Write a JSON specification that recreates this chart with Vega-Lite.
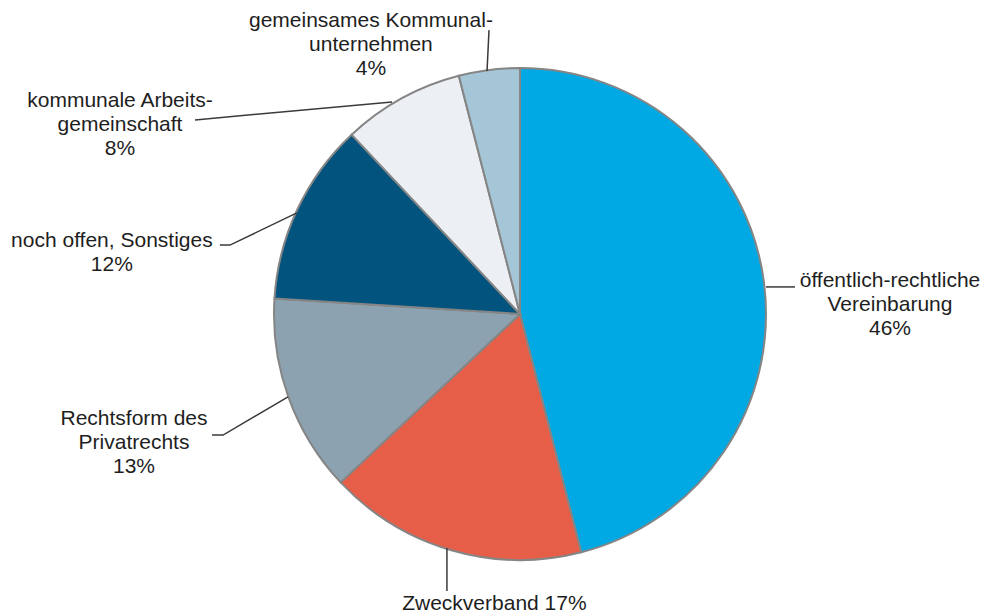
{
  "$schema": "https://vega.github.io/schema/vega-lite/v6.json",
  "width": 986,
  "height": 615,
  "padding": 0,
  "autosize": {"type": "none"},
  "background": "white",
  "config": {"view": {"stroke": null}},
  "datasets": {
    "slices": [
      {"idx": 1, "category": "öffentlich-rechtliche Vereinbarung", "share": 46},
      {"idx": 2, "category": "Zweckverband", "share": 17},
      {"idx": 3, "category": "Rechtsform des Privatrechts", "share": 13},
      {"idx": 4, "category": "noch offen, Sonstiges", "share": 12},
      {"idx": 5, "category": "kommunale Arbeitsgemeinschaft", "share": 8},
      {"idx": 6, "category": "gemeinsames Kommunalunternehmen", "share": 4}
    ],
    "leaders": [
      {"leader": "gem", "pt": 0, "u": -13.4, "v": 98.8},
      {"leader": "gem", "pt": 1, "u": -12.6, "v": 115.4},
      {"leader": "kom", "pt": 0, "u": -132.1, "v": 78.9},
      {"leader": "kom", "pt": 1, "u": -52.0, "v": 86.2},
      {"leader": "noch", "pt": 0, "u": -122.0, "v": 28.0},
      {"leader": "noch", "pt": 1, "u": -117.9, "v": 28.0},
      {"leader": "noch", "pt": 2, "u": -90.7, "v": 41.1},
      {"leader": "rech", "pt": 0, "u": -125.2, "v": -49.2},
      {"leader": "rech", "pt": 1, "u": -120.7, "v": -49.2},
      {"leader": "rech", "pt": 2, "u": -94.3, "v": -33.7},
      {"leader": "oeff", "pt": 0, "u": 100.0, "v": 11.0},
      {"leader": "oeff", "pt": 1, "u": 111.8, "v": 11.0},
      {"leader": "zweck", "pt": 0, "u": -29.7, "v": -95.1},
      {"leader": "zweck", "pt": 1, "u": -29.7, "v": -112.6}
    ],
    "labels": [
      {"text": "gemeinsames Kommunal-\nunternehmen\n4%", "u": -60.6, "v": 116.7},
      {"text": "kommunale Arbeits-\ngemeinschaft\n8%", "u": -162.6, "v": 84.3},
      {"text": "noch offen, Sonstiges\n12%", "u": -165.9, "v": 27.4},
      {"text": "Rechtsform des\nPrivatrechts\n13%", "u": -156.9, "v": -45.1},
      {"text": "öffentlich-rechtliche\nVereinbarung\n46%", "u": 150.4, "v": 11.1},
      {"text": "Zweckverband 17%", "u": -10.4, "v": -120.3}
    ]
  },
  "layer": [
    {
      "data": {"name": "slices"},
      "mark": {"type": "arc", "outerRadius": 246, "stroke": "#858585", "strokeWidth": 2},
      "encoding": {
        "x": {"datum": 0, "type": "quantitative", "scale": {"domain": [-211.38, 189.43]}, "axis": null},
        "y": {"datum": 0, "type": "quantitative", "scale": {"domain": [-122.36, 127.64]}, "axis": null},
        "theta": {"field": "share", "type": "quantitative", "stack": true},
        "order": {"field": "idx", "type": "quantitative"},
        "color": {
          "field": "category",
          "type": "nominal",
          "legend": null,
          "scale": {
            "domain": ["öffentlich-rechtliche Vereinbarung", "Zweckverband", "Rechtsform des Privatrechts", "noch offen, Sonstiges", "kommunale Arbeitsgemeinschaft", "gemeinsames Kommunalunternehmen"],
            "range": ["#00A9E4", "#E75E48", "#8CA2B0", "#02547E", "#ECF0F4", "#A5C6D6"]
          }
        }
      }
    },
    {
      "data": {"name": "leaders"},
      "mark": {"type": "line", "color": "#3a3a3a", "strokeWidth": 1.5},
      "encoding": {
        "x": {"field": "u", "type": "quantitative", "scale": {"domain": [-211.38, 189.43]}, "axis": null},
        "y": {"field": "v", "type": "quantitative", "scale": {"domain": [-122.36, 127.64]}, "axis": null},
        "detail": {"field": "leader"},
        "order": {"field": "pt", "type": "quantitative"}
      }
    },
    {
      "data": {"name": "labels"},
      "mark": {"type": "text", "font": "Liberation Sans", "fontSize": 21, "lineHeight": 24, "lineBreak": "\n", "align": "center", "baseline": "alphabetic", "color": "#1e1e1e"},
      "encoding": {
        "x": {"field": "u", "type": "quantitative", "scale": {"domain": [-211.38, 189.43]}, "axis": null},
        "y": {"field": "v", "type": "quantitative", "scale": {"domain": [-122.36, 127.64]}, "axis": null},
        "text": {"field": "text"}
      }
    }
  ]
}
